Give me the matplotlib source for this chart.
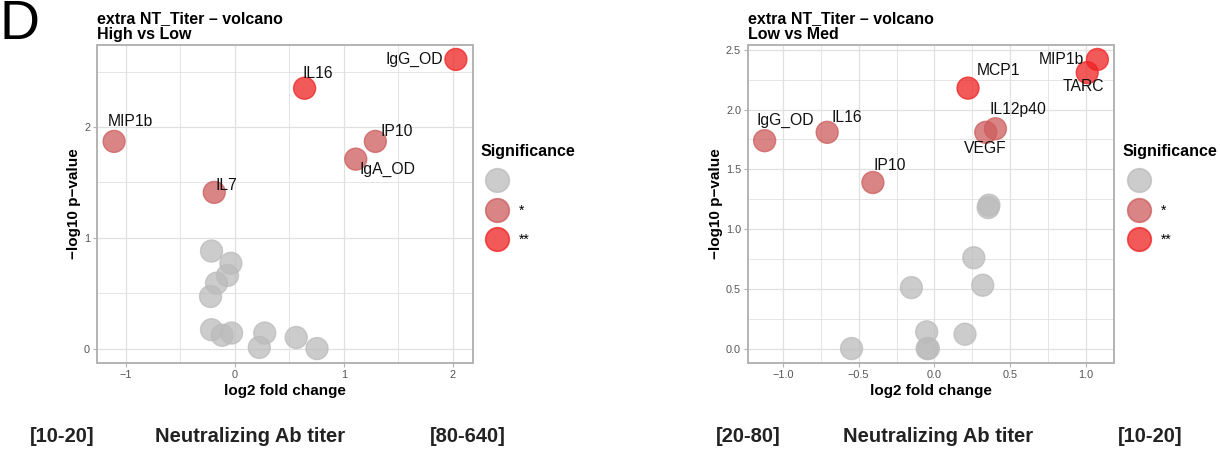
import matplotlib
matplotlib.use("Agg")
import matplotlib.pyplot as plt
from matplotlib.ticker import MultipleLocator
from matplotlib.lines import Line2D

plt.rcParams['font.family'] = ['Liberation Sans', 'DejaVu Sans']

# High vs Low
hl_labels = ['IgG_OD', 'IL16', 'MIP1b', 'IP10', 'IgA_OD', 'IL7',
             '', '', '', '', '', '', '', '', '', '', '', '']
hl_fc = [2.03, 0.64, -1.11, 1.29, 1.11, -0.19,
         -0.215, -0.037, -0.068, -0.169, -0.224, -0.215, -0.117, -0.031,
         0.274, 0.224, 0.563, 0.754]
hl_p = [2.61, 2.35, 1.87, 1.87, 1.71, 1.41,
        0.88, 0.77, 0.66, 0.59, 0.47, 0.17, 0.12, 0.14,
        0.14, 0.01, 0.10, 0.00]
hl_sig = ['**', '**', '*', '*', '*', '*'] + [''] * 12

# Low vs Med
lm_labels = ['MIP1b', 'TARC', 'MCP1', 'IL12p40', 'VEGF', 'IgG_OD', 'IL16', 'IP10',
             '', '', '', '', '', '', '', '', '', '']
lm_fc = [1.076, 1.009, 0.222, 0.403, 0.339, -1.121, -0.708, -0.406,
         0.36, 0.355, 0.26, 0.319, -0.152, -0.051, 0.202, -0.547, -0.048, -0.04]
lm_p = [2.42, 2.31, 2.18, 1.84, 1.81, 1.74, 1.81, 1.39,
        1.20, 1.18, 0.76, 0.53, 0.51, 0.14, 0.12, 0.0, 0.0, 0.0]
lm_sig = ['**', '**', '**', '*', '*', '*', '*', '*'] + [''] * 10

sig_colors = {'': '#bbbbbb', '*': '#cd5c5c', '**': '#ee2222'}

# label offsets in pixels (dx, dy) from the point
hl_offsets = [(-42, 0), (13, 15), (16, 20), (21, 10), (32, -10), (12, 7)]
lm_offsets = [(-36, 0), (-4, -14), (30, 18), (22, 19), (0, -16), (21, 20), (20, 15), (17, 17)]

W, H = 1220, 449
fig = plt.figure(figsize=(W / 100, H / 100), dpi=100)

grid_col = '#e0e0e0'
frame_col = '#b3b3b3'


def volcano(rect, fc, p, sig, labels, offsets, subtitle, major, minor, legend_x):
    ax = fig.add_axes(rect)
    cols = [sig_colors[s] for s in sig]
    ax.scatter(fc, p, s=250, c=cols, alpha=0.75, edgecolors=cols, linewidths=1.0, zorder=3)
    ax.margins(0.05)
    ax.xaxis.set_major_locator(MultipleLocator(major[0]))
    ax.xaxis.set_minor_locator(MultipleLocator(minor[0]))
    ax.yaxis.set_major_locator(MultipleLocator(major[1]))
    ax.yaxis.set_minor_locator(MultipleLocator(minor[1]))
    ax.grid(True, which='major', color=grid_col, linewidth=0.9)
    ax.grid(True, which='minor', color=grid_col, linewidth=0.6)
    ax.set_axisbelow(True)
    for sp in ax.spines.values():
        sp.set_color(frame_col)
        sp.set_linewidth(1.4)
    ax.tick_params(which='major', length=3, color=frame_col, labelsize=7.8, labelcolor='#555555', pad=2)
    ax.tick_params(which='minor', length=0)
    ax.set_xlabel('log2 fold change', fontsize=11, fontweight='bold', labelpad=3)
    ax.set_ylabel('\u2212log10 p\u2212value', fontsize=11, fontweight='bold', labelpad=2)
    ax.text(0, 1.008, 'extra NT_Titer \u2013 volcano\n' + subtitle, transform=ax.transAxes,
            fontsize=11.5, fontweight='bold', ha='left', va='bottom', linespacing=1.15)
    for x, y, lab, (dx, dy) in zip(fc, p, labels, offsets):
        ax.annotate(lab, (x, y), xytext=(dx * 0.72, dy * 0.72), textcoords='offset points',
                    ha='center', va='center', fontsize=11.3, color='#111111', zorder=4)
    handles = [Line2D([], [], linestyle='none', marker='o', markersize=17,
                      markerfacecolor=sig_colors[k], markeredgecolor=sig_colors[k],
                      alpha=0.75, markeredgewidth=1.2) for k in ['', '*', '**']]
    leg = ax.legend(handles, ['', '*', '**'], title='Significance', loc='upper left',
                    bbox_to_anchor=(legend_x / W, 1 - 144 / H), bbox_transform=fig.transFigure,
                    frameon=False, fontsize=10, handletextpad=0.35, labelspacing=1.1,
                    borderpad=0, borderaxespad=0, alignment='left', handlelength=2.35)
    leg.get_title().set_fontweight('bold')
    leg.get_title().set_fontsize(11.5)
    return ax


volcano([97 / W, 86 / H, 376 / W, 318 / H], hl_fc, hl_p, hl_sig, hl_labels, hl_offsets,
        'High vs Low', (1, 1), (0.5, 0.5), 481)
volcano([748 / W, 86 / H, 366 / W, 318 / H], lm_fc, lm_p, lm_sig, lm_labels, lm_offsets,
        'Low vs Med', (0.5, 0.5), (0.25, 0.25), 1123)

fig.text(0.0, 1 - 25 / H, 'D', fontsize=40, ha='left', va='center')

bottom = [('[10-20]', 62), ('Neutralizing Ab titer', 250), ('[80-640]', 468),
          ('[20-80]', 748), ('Neutralizing Ab titer', 938), ('[10-20]', 1150)]
for txt, xc in bottom:
    fig.text(xc / W, 1 - 437 / H, txt, fontsize=14.5, fontweight='bold', ha='center', va='center',
             color='#222222')

fig.savefig('out.png', dpi=100)
